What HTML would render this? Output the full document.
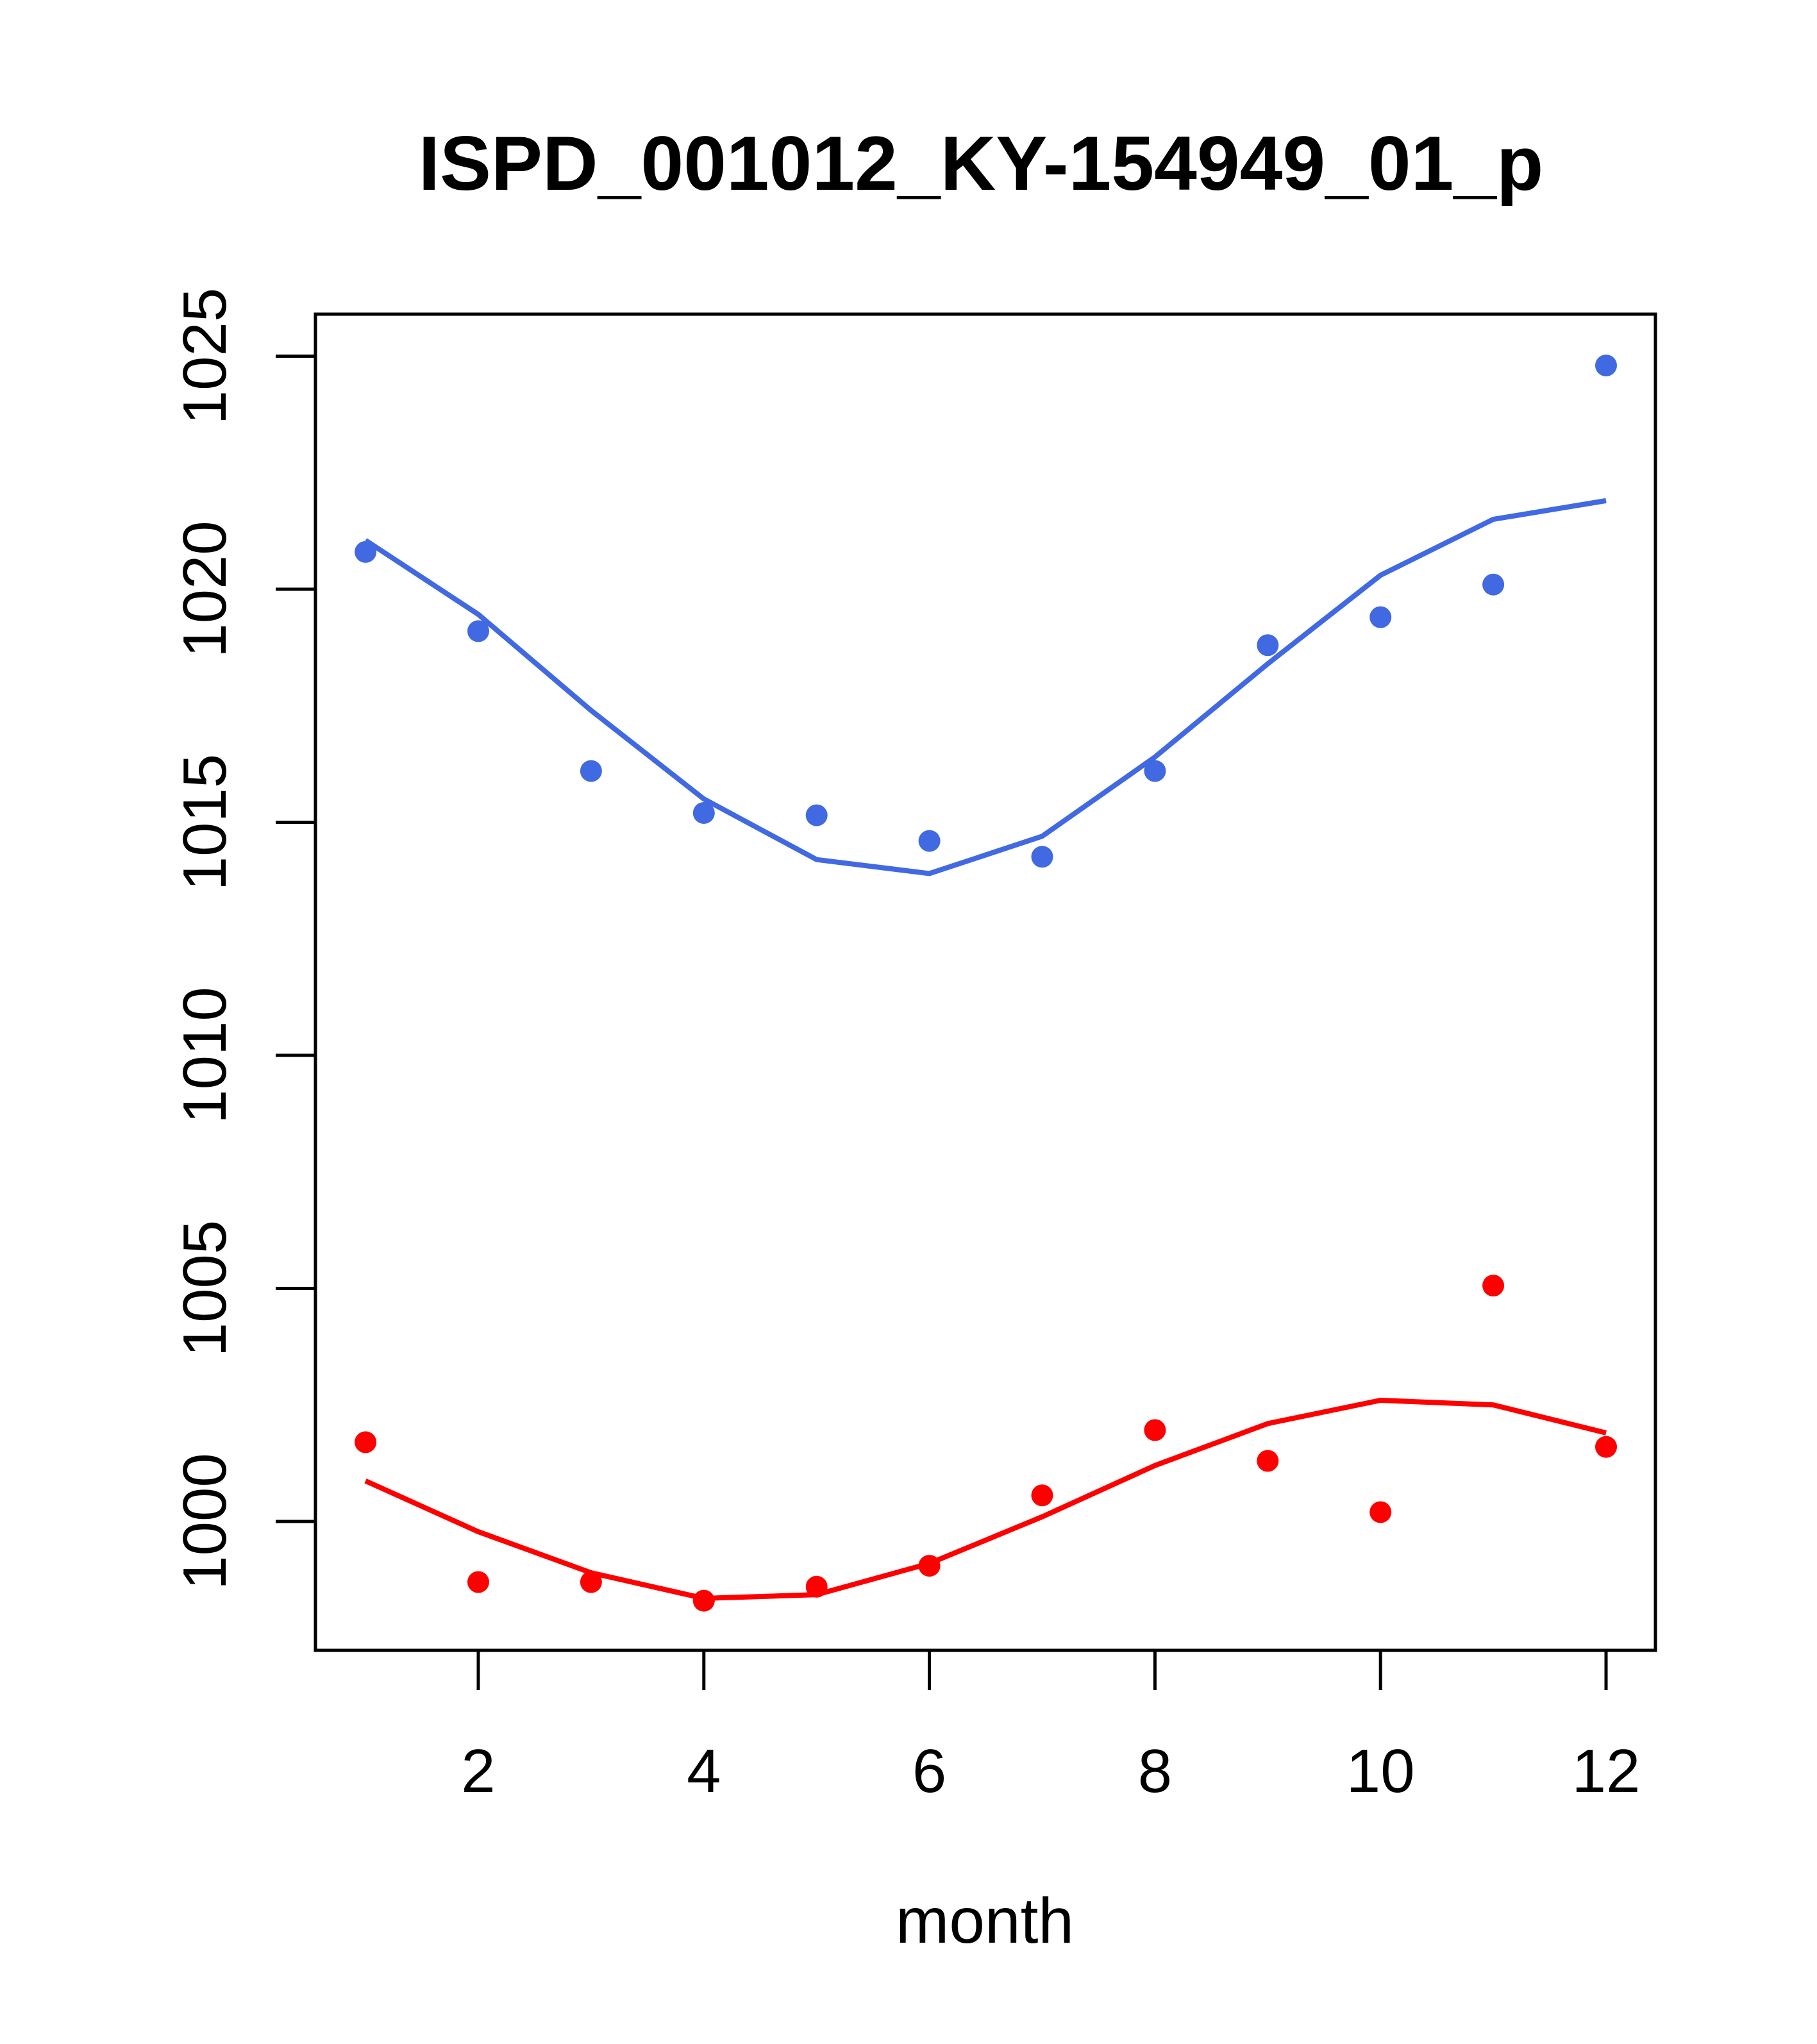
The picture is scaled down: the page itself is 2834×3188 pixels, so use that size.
<!DOCTYPE html>
<html><head><meta charset="utf-8"><style>
html,body{margin:0;padding:0;background:#fff;}
svg{display:block;font-family:"Liberation Sans",Arial,sans-serif;}
</style></head><body>
<svg id="chart" width="2834" height="3188" viewBox="0 0 2834 3188" xmlns="http://www.w3.org/2000/svg">
<rect width="2834" height="3188" fill="#fff"/>
<text x="1530" y="296" text-anchor="middle" font-size="120" font-weight="bold">ISPD_001012_KY-154949_01_p</text>
<rect x="492" y="490" width="2090" height="2084" fill="none" stroke="#000" stroke-width="5"/>
<text x="1536" y="3030" text-anchor="middle" font-size="100">month</text>
<g id="axes"></g>
<g id="series"></g>
</svg>
<script>
const months=[1,2,3,4,5,6,7,8,9,10,11,12];
const bluePoints=[1020.8,1019.1,1016.1,1015.2,1015.15,1014.6,1014.26,1016.1,1018.8,1019.4,1020.1,1024.8];
const blueLine=[1021.05,1019.46,1017.4,1015.5,1014.2,1013.9,1014.7,1016.4,1018.4,1020.3,1021.5,1021.9];
const redPoints=[1001.7,998.7,998.7,998.3,998.6,999.05,1000.56,1001.96,1001.3,1000.2,1005.06,1001.6];
const redLine=[1000.87,999.78,998.9,998.35,998.43,999.1,1000.1,1001.2,1002.1,1002.6,1002.5,1001.9];
const xTicks=[2,4,6,8,10,12];
const yTicks=[1000,1005,1010,1015,1020,1025];

const NS="http://www.w3.org/2000/svg";
function xs(m){return 746+(m-2)*175.9;}
function ys(v){return 2373-(v-1000)*72.7;}
function mk(tag,attrs,parent){const e=document.createElementNS(NS,tag);for(const k in attrs)e.setAttribute(k,attrs[k]);parent.appendChild(e);return e;}
const axes=document.getElementById('axes');
const series=document.getElementById('series');
xTicks.forEach(t=>{
  const l=mk('line',{x1:xs(t),x2:xs(t),y1:2574,y2:2636,stroke:'#000','stroke-width':5},axes);
  
  
  const tx=mk('text',{x:xs(t),y:2795,'text-anchor':'middle','font-size':96},axes);
  tx.textContent=t;
  
  
});
yTicks.forEach(t=>{
  const l=mk('line',{x1:430,x2:492,y1:ys(t),y2:ys(t),stroke:'#000','stroke-width':5},axes);
  
  
  const tx=mk('text',{x:0,y:0,'text-anchor':'middle','font-size':96,transform:`translate(352,${ys(t)}) rotate(-90)`},axes);
  tx.textContent=t;
  
  
});
function drawLine(vals,color,name){
  const p=mk('polyline',{points:vals.map((v,i)=>xs(months[i])+','+ys(v)).join(' '),fill:'none',stroke:color,'stroke-width':8},series);
  
  
}
function drawPts(vals,color,name){
  vals.forEach((v,i)=>{
    const c=mk('circle',{cx:xs(months[i]),cy:ys(v),r:17,fill:color},series);
    
    
  });
}
drawLine(blueLine,'#4169e1','blue-fit-line');
drawLine(redLine,'#ff0000','red-fit-line');
drawPts(bluePoints,'#4169e1','blue-point');
drawPts(redPoints,'#ff0000','red-point');
</script>
</body></html>
